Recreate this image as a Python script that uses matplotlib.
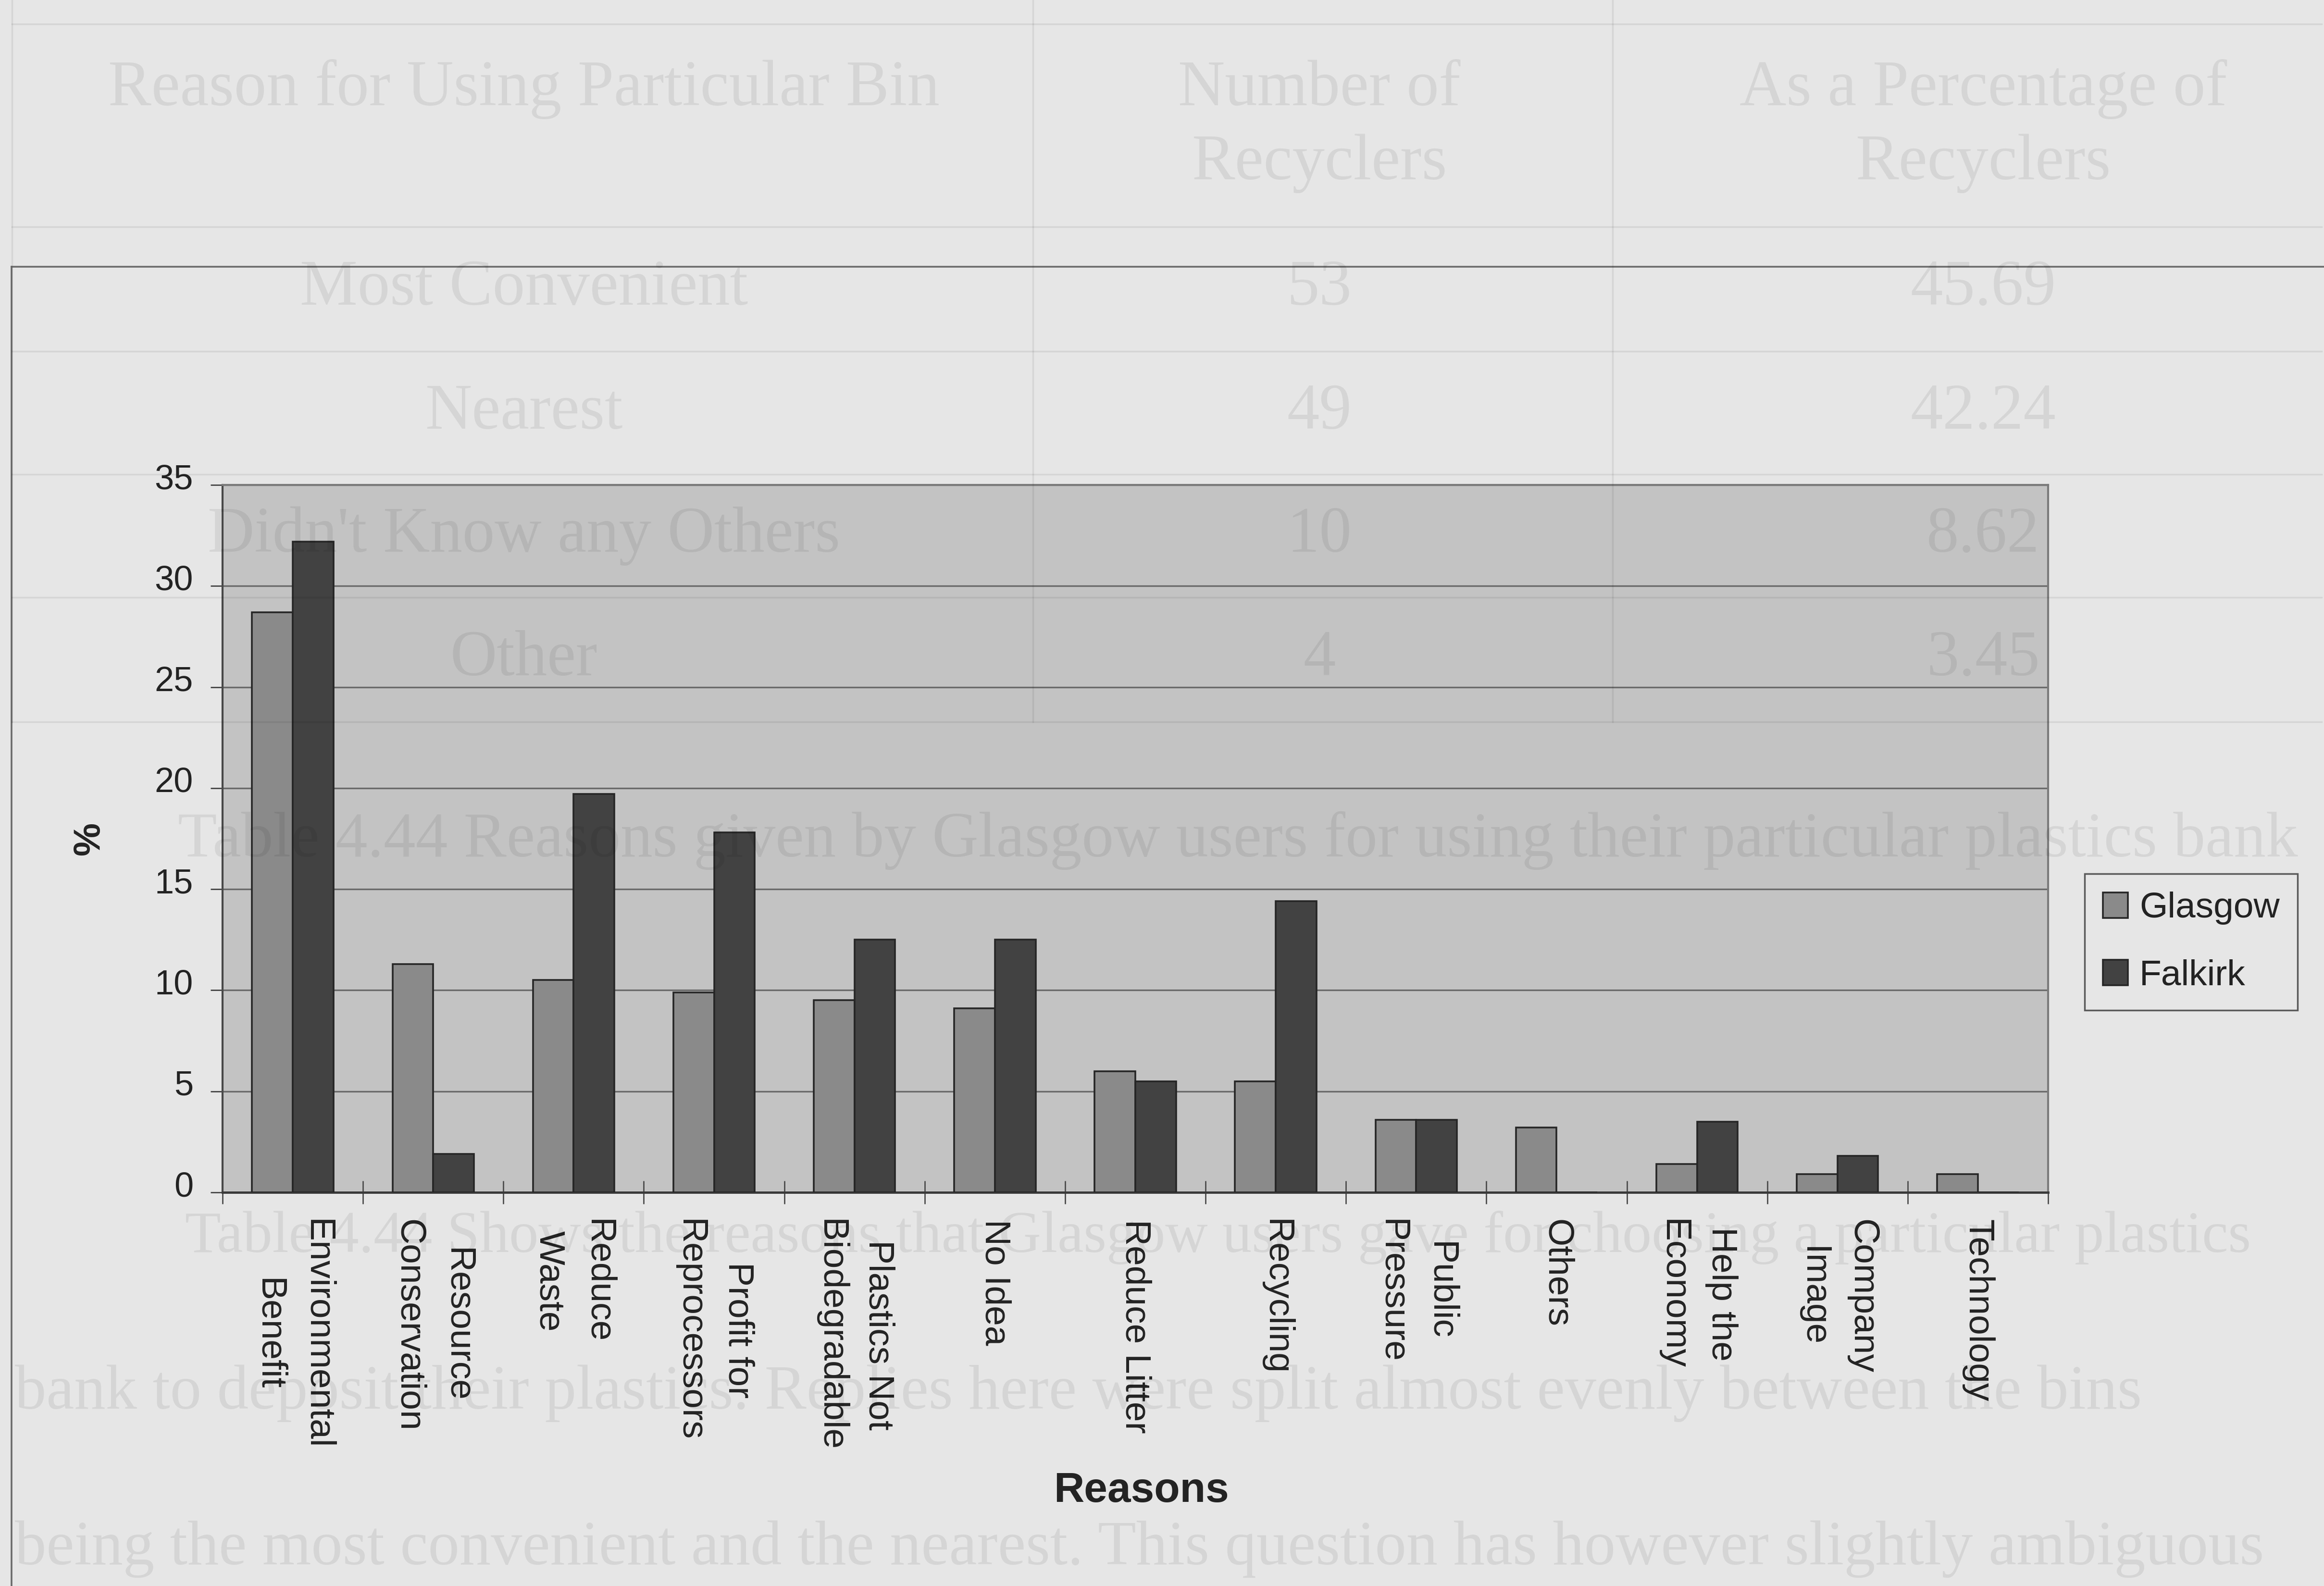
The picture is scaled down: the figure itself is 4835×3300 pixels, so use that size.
import matplotlib
matplotlib.use("Agg")
import matplotlib.pyplot as plt
from matplotlib.lines import Line2D
from matplotlib.transforms import ScaledTranslation
import numpy as np

# ---- chart data -------------------------------------------------------
categories = [
    "Environmental\nBenefit", "Resource\nConservation", "Reduce\nWaste",
    "Profit for\nReprocessors", "Plastics Not\nBiodegradable", "No Idea",
    "Reduce Litter", "Recycling", "Public\nPressure", "Others",
    "Help the\nEconomy", "Company\nImage", "Technology",
]
glasgow = [28.7, 11.3, 10.5, 9.9, 9.5, 9.1, 6.0, 5.5, 3.6, 3.2, 1.4, 0.9, 0.9]
falkirk = [32.2, 1.9, 19.7, 17.8, 12.5, 12.5, 5.5, 14.4, 3.6, 0.0, 3.5, 1.8, 0.0]
series_names = ["Glasgow", "Falkirk"]
y_ticks = [0, 5, 10, 15, 20, 25, 30, 35]
x_title = "Reasons"
y_title = "%"

# ---- surrounding page text (table and paragraph printed on the page) ---
table_header = [["Reason for Using Particular Bin"], ["Number of", "Recyclers"],
                ["As a Percentage of", "Recyclers"]]
table_reasons = ["Most Convenient", "Nearest", "Didn't Know any Others", "Other"]
table_counts = ["53", "49", "10", "4"]
table_percent = ["45.69", "42.24", "8.62", "3.45"]
caption = "Table 4.44 Reasons given by Glasgow users for using their particular plastics bank"
paragraph = [
    "Table 4.44 Shows the reasons that Glasgow users gave for choosing a particular plastics",
    "bank to deposit their plastics. Replies here were split almost evenly between the bins",
    "being the most convenient and the nearest. This question has however slightly ambiguous",
]

# ---- styling -----------------------------------------------------------
W, H = 4835, 3300
DPI = 100
PAGE = "#e6e6e6"
PLOT_BG = "#c3c3c3"
GLASGOW_C = "#8a8a8a"
FALKIRK_C = "#424242"
EDGE = "#262626"
TEXT = "#232323"
SANS = ["Liberation Sans", "DejaVu Sans"]
SERIF = ["Liberation Serif", "DejaVu Serif"]


def fx(px):
    return px / W


def fy(py):
    return 1 - py / H


fig = plt.figure(figsize=(W / DPI, H / DPI), dpi=DPI)
fig.patch.set_facecolor(PAGE)

# plot area
left, right, top, bottom = 463, 4261, 1009, 2481
ax = fig.add_axes([fx(left), fy(bottom), fx(right - left), (bottom - top) / H])
ax.set_facecolor(PLOT_BG)

x = np.arange(len(categories))
bw = 0.29
ax.bar(x - bw / 2, glasgow, bw, color=GLASGOW_C, edgecolor=EDGE, linewidth=2.6,
       label=series_names[0], zorder=3)
ax.bar(x + bw / 2, falkirk, bw, color=FALKIRK_C, edgecolor=EDGE, linewidth=2.6,
       label=series_names[1], zorder=3)

ax.set_xlim(-0.5, len(categories) - 0.5)
ax.set_ylim(0, 35)
ax.set_yticks(y_ticks)
ax.yaxis.grid(True, color="#6a6a6a", linewidth=2.4)
ax.set_axisbelow(True)

for side, col, lw in [("left", "#4a4a4a", 3), ("bottom", "#3a3a3a", 3.5),
                      ("top", "#7a7a7a", 3), ("right", "#7a7a7a", 3)]:
    ax.spines[side].set_color(col)
    ax.spines[side].set_linewidth(lw)

ax.set_xticks(x)
ax.set_xticklabels(categories, rotation=270, ha="center", va="top",
                   multialignment="center", fontsize=54, color=TEXT,
                   family=SANS, linespacing=1.6)
ax.tick_params(axis="x", which="major", length=0, pad=40)
ax.set_xticks(np.arange(-0.5, len(categories), 1), minor=True)
ax.tick_params(axis="x", which="minor", direction="inout", length=34,
               width=2, color="#4c4c4c")
ax.tick_params(axis="y", length=18, width=2, color="#444444", pad=26,
               labelsize=52, labelcolor=TEXT)
for lab in ax.get_yticklabels():
    lab.set_family(SANS)

# axis titles
ax.set_xlabel(x_title, fontsize=63, fontweight="bold", color=TEXT, family=SANS)
ax.xaxis.label.set_va("center")
ax.xaxis.set_label_coords((2374 - left) / (right - left), (bottom - 3102) / (bottom - top))
ax.set_ylabel(y_title, fontsize=56, fontweight="bold", color=TEXT, family=SANS)
ax.yaxis.label.set_va("center")
ax.yaxis.set_label_coords((186 - left) / (right - left), (bottom - 1745) / (bottom - top))

# legend
leg = ax.legend(loc="upper left", bbox_to_anchor=(fx(4337), fy(1818)),
                bbox_transform=fig.transFigure, prop={"family": SANS, "size": 54},
                frameon=True, fancybox=False, edgecolor="#5a5a5a", facecolor=PAGE,
                framealpha=1, handlelength=0.7, handleheight=0.7,
                handletextpad=0.32, labelspacing=0.95, borderpad=0.5,
                borderaxespad=0)
leg.get_frame().set_linewidth(2.5)
for t in leg.get_texts():
    t.set_color(TEXT)

# chart frame
fig.add_artist(Line2D([fx(24), fx(24)], [0, fy(555)], transform=fig.transFigure,
                      color="#6c6c6c", linewidth=2.6))
fig.add_artist(Line2D([fx(24), 1], [fy(555), fy(555)], transform=fig.transFigure,
                      color="#6c6c6c", linewidth=2.6))

# faint page content showing through the chart
GHOST = dict(color="black", alpha=0.07, zorder=20)
for yy in [50, 472, 731, 987, 1243, 1502]:
    fig.add_artist(Line2D([fx(25), fx(4830)], [fy(yy), fy(yy)],
                          transform=fig.transFigure, linewidth=2.5, **GHOST))
for xx in [25, 2149, 3355]:
    fig.add_artist(Line2D([fx(xx), fx(xx)], [fy(0), fy(1502)],
                          transform=fig.transFigure, linewidth=2.5, **GHOST))

col_x = [1090, 2745, 4126]
for cx, head in zip(col_x, table_header):
    for ly, line in zip([186, 340], head):
        fig.text(fx(cx), fy(ly), line, ha="center", va="center", fontsize=97,
                 family=SERIF, **GHOST)
row_y = [601, 859, 1115, 1372]
for ry, r, c, p in zip(row_y, table_reasons, table_counts, table_percent):
    for cx, s in zip(col_x, [r, c, p]):
        fig.text(fx(cx), fy(ry), s, ha="center", va="center", fontsize=97,
                 family=SERIF, **GHOST)

fig.text(fx(370), fy(1749), caption, ha="left", va="center", fontsize=96,
         family=SERIF, **GHOST)
for (px, py), size, line in zip([(385, 2575), (31, 2899), (31, 3223)],
                                [88, 94, 94], paragraph):
    fig.text(fx(px), fy(py), line, ha="left", va="center", fontsize=size,
             family=SERIF, **GHOST)

# shift y tick labels slightly above their ticks
offset = ScaledTranslation(0, 18 / DPI, fig.dpi_scale_trans)
for lab in ax.get_yticklabels():
    lab.set_transform(lab.get_transform() + offset)

fig.savefig("out.png", dpi=DPI, facecolor=PAGE)
